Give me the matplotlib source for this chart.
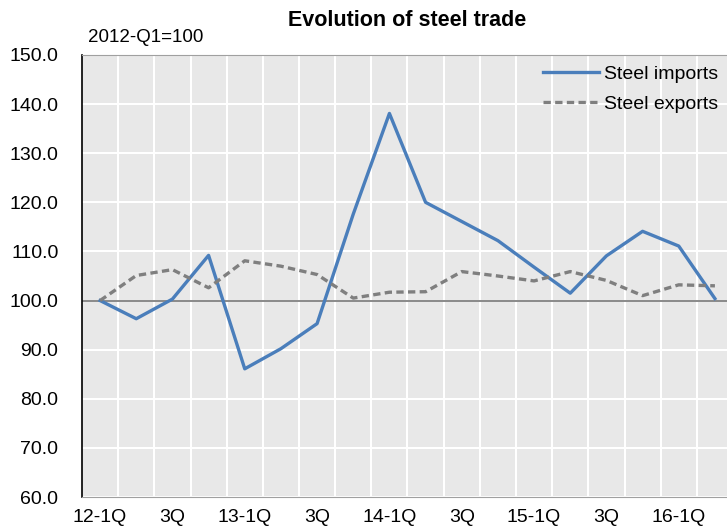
import matplotlib
matplotlib.use('Agg')
import matplotlib.pyplot as plt
from matplotlib import font_manager

# quarterly index values, 2012-Q1 = 100
quarters = ['12-1Q', '2Q', '3Q', '4Q', '13-1Q', '2Q', '3Q', '4Q', '14-1Q', '2Q', '3Q', '4Q',
            '15-1Q', '2Q', '3Q', '4Q', '16-1Q', '2Q']
steel_imports = [100.0, 96.3, 100.3, 109.2, 86.1, 90.2, 95.3, 117.6, 138.1, 120.0, 116.1, 112.2,
                 106.8, 101.5, 109.1, 114.1, 111.1, 100.4]
steel_exports = [100.0, 105.1, 106.3, 102.6, 108.1, 107.0, 105.3, 100.5, 101.7, 101.8, 105.9, 105.0,
                 104.0, 105.9, 104.1, 101.0, 103.2, 103.0]
y_ticks = [60, 70, 80, 90, 100, 110, 120, 130, 140, 150]

names = {f.name for f in font_manager.fontManager.ttflist}
family = 'Liberation Sans Narrow' if 'Liberation Sans Narrow' in names else 'Liberation Sans'
plt.rcParams['font.family'] = [family, 'DejaVu Sans']

W, H = 727, 529
fig = plt.figure(figsize=(W / 100, H / 100), dpi=100)
ax = fig.add_axes([82 / W, 32 / H, 651 / W, 442 / H])
ax.set_facecolor('#e8e8e8')

x = list(range(len(quarters)))
ax.axhline(100, color='#808080', lw=1.3, zorder=2)
ax.plot(x, steel_imports, color='#4a7ebb', lw=2.4, label='Steel imports', zorder=3)
ax.plot(x, steel_exports, color='#7f7f7f', lw=2.4, ls=(0, (2.2, 1.3)), label='Steel exports', zorder=3)

ax.set_xlim(-0.5, len(quarters) - 0.5)
ax.set_ylim(60, 150)
ax.set_yticks(y_ticks)
ax.set_yticklabels([f'{v:.1f}' for v in y_ticks])
ax.set_xticks(x[::2])
ax.set_xticklabels(quarters[::2])
ax.set_xticks([i + 0.5 for i in x[:-1]], minor=True)
ax.grid(False)
ax.grid(True, which='minor', axis='x', color='white', lw=1.5, zorder=1)
ax.grid(True, which='major', axis='y', color='white', lw=1.5, zorder=1)
ax.tick_params(axis='both', which='both', length=0, labelsize=14)
ax.tick_params(axis='y', pad=17)
ax.tick_params(axis='x', pad=9)

ax.spines['right'].set_visible(False)
ax.spines['left'].set_color('black')
ax.spines['left'].set_linewidth(1.2)
ax.spines['top'].set_color('#a0a0a0')
ax.spines['bottom'].set_color('#a0a0a0')

fig.text(407 / W, 1 - 20 / H, 'Evolution of steel trade', ha='center', va='center',
         fontsize=15.5, fontweight='bold')
fig.text(88 / W, 1 - 38 / H, '2012-Q1=100', ha='left', va='center', fontsize=13.5)

ax.legend(loc='upper left', bbox_to_anchor=((532 - 82) / 651, 1.0), frameon=False,
          fontsize=14, handlelength=2.9, handletextpad=0.25, labelspacing=0.6, borderaxespad=0.15)

fig.savefig('out.png', dpi=100)
